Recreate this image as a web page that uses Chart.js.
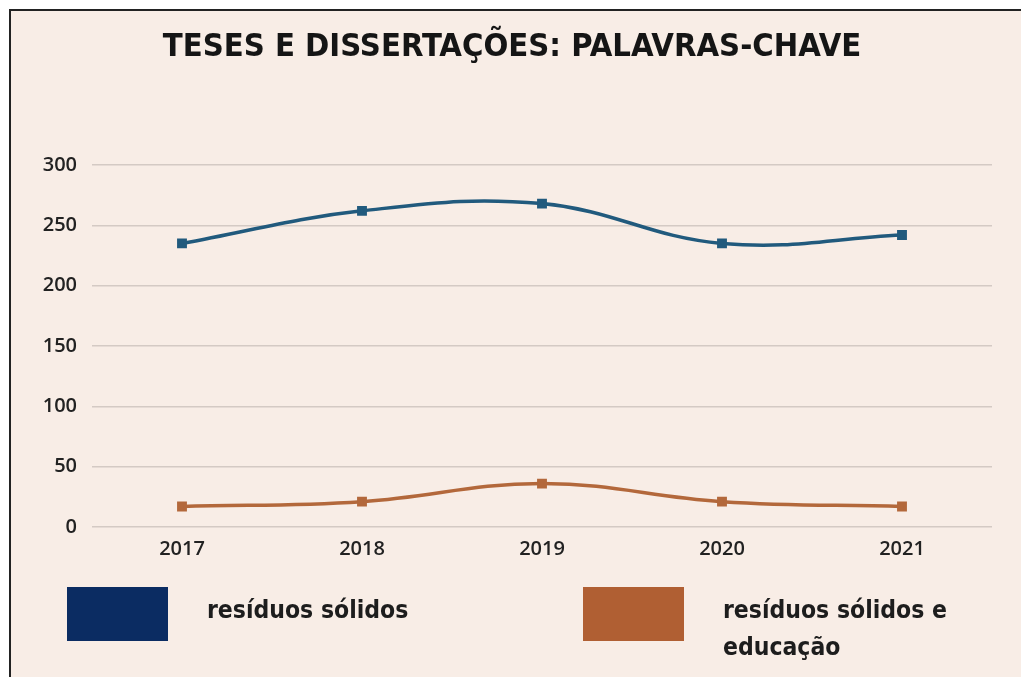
<!DOCTYPE html>
<html>
<head>
<meta charset="utf-8">
<script src="https://cdn.jsdelivr.net/npm/chart.js@4"></script>
<style>
  html, body { margin: 0; padding: 0; background: #fff; }
  body { width: 1021px; height: 677px; position: relative; overflow: hidden; }
  .card {
    position: absolute; left: 9px; top: 9px; right: 0; bottom: 0;
    border-left: 2px solid #222; border-top: 2px solid #222;
    background: #f8ede6;
  }
  #chart { position: absolute; left: 0; top: 0; }
  .legend-item { position: absolute; top: 587px; }
  .legend-item .box { position: absolute; left: 0; top: 0; width: 101px; height: 54px; }
  .legend-item .txt {
    position: absolute; left: 140px; top: 4px; width: 250px;
    font-family: "DejaVu Sans Condensed", sans-serif;
    font-weight: bold; font-size: 24.5px; line-height: 37px; color: #1d1d1d;
  }
</style>
</head>
<body>
<div class="card"></div>
<canvas id="chart" width="1021" height="677"></canvas>
<div id="legend"></div>
<script>
// data
const years = ['2017', '2018', '2019', '2020', '2021'];
const residuos = [235, 262, 268, 235, 242];
const residuos_educacao = [17, 21, 36, 21, 17];
const series_names = ['resíduos sólidos', 'resíduos sólidos e educação'];
const y_ticks = [0, 50, 100, 150, 200, 250, 300];

const line_colors = ['#215a7d', '#b3683b'];
const legend_colors = ['#0b2c62', '#b05f33'];
const legend_left = [67, 583];

let ctx = document.getElementById('chart').getContext('2d');

let chart = new Chart(ctx, {
    type: 'line',
    data: {
        labels: years,
        datasets: [{
            label: series_names[0],
            data: residuos,
            borderColor: line_colors[0],
            backgroundColor: line_colors[0],
            borderWidth: 3.5,
            pointStyle: 'rect',
            pointRadius: 4.5,
            tension: 0.4,
            fill: false
        },
        {
            label: series_names[1],
            data: residuos_educacao,
            borderColor: line_colors[1],
            backgroundColor: line_colors[1],
            borderWidth: 3.5,
            pointStyle: 'rect',
            pointRadius: 4.5,
            tension: 0.4,
            fill: false
        }]
    },
    options: {
        responsive: false,
        animation: false,
        layout: {
            padding: { left: 32, right: 29, top: 25, bottom: 106 }
        },
        plugins: {
            legend: { display: false },
            tooltip: { enabled: false },
            title: {
                display: true,
                text: 'TESES E DISSERTAÇÕES: PALAVRAS-CHAVE',
                color: '#151515',
                font: { family: '"DejaVu Sans Condensed", sans-serif', size: 32.5, weight: 'bold' },
                padding: { top: 3, bottom: 98 }
            }
        },
        scales: {
            x: {
                offset: true,
                grid: { display: false, drawTicks: false },
                border: { display: false },
                ticks: {
                    color: '#222',
                    padding: 10,
                    font: { family: '"Open Sans", sans-serif', size: 20, weight: '600' }
                }
            },
            y: {
                min: 0,
                max: 300,
                afterBuildTicks: (scale) => { scale.ticks = y_ticks.map(v => ({ value: v })); },
                afterFit: (scale) => { scale.width = 60; },
                grid: { color: 'rgba(140,132,126,0.33)', lineWidth: 1.5, drawTicks: false },
                border: { display: false },
                ticks: {
                    color: '#222',
                    padding: 15,
                    font: { family: '"Open Sans", sans-serif', size: 20, weight: '600' }
                }
            }
        }
    }
});

// html legend built from the datasets
const legend_el = document.getElementById('legend');
chart.data.datasets.forEach((ds, i) => {
    const item = document.createElement('div');
    item.className = 'legend-item';
    item.style.left = legend_left[i] + 'px';
    item.innerHTML = '<div class="box" style="background:' + legend_colors[i] + '"></div>' +
        '<div class="txt">' + ds.label + '</div>';
    legend_el.appendChild(item);
});
</script>
</body>
</html>
